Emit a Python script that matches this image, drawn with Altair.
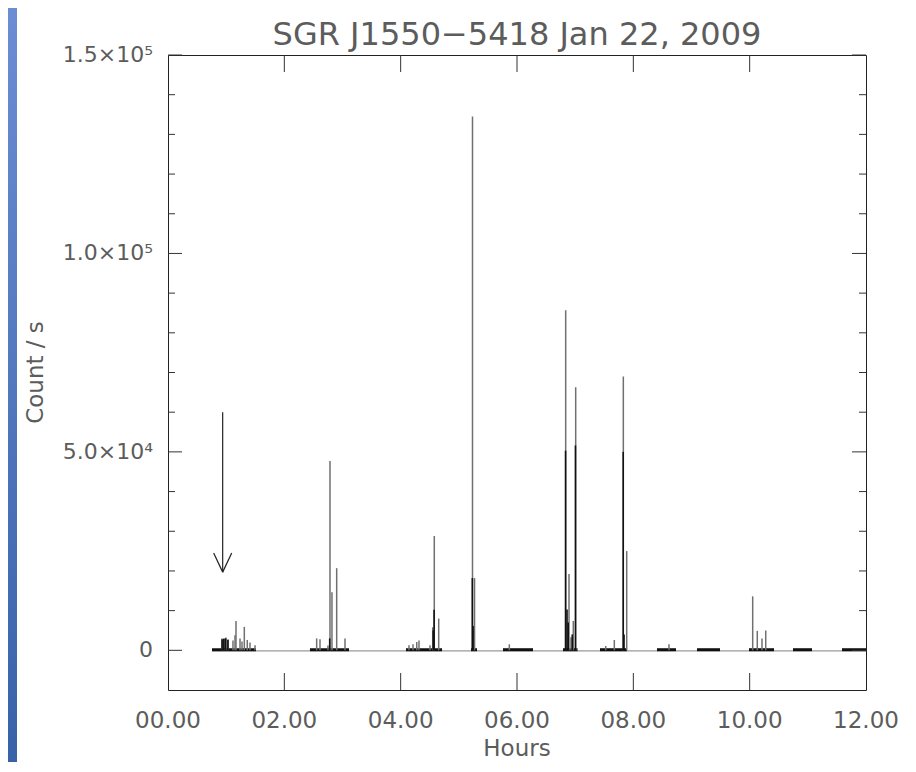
import altair as alt
import pandas as pd

# ---- data ----
# observation intervals (hours)
seg_start = [0.756, 2.441, 4.092, 5.209, 5.759, 6.791, 7.427, 8.407, 9.095, 9.989, 10.745, 11.587]
seg_end = [1.513, 3.112, 4.711, 5.312, 6.275, 7.040, 7.891, 8.734, 9.490, 10.418, 11.072, 12.0]

# burst peaks (hours, counts/s)
spike_t = [0.928, 0.963, 0.997, 1.032, 1.117, 1.152, 1.169, 1.238, 1.272, 1.312, 1.363, 1.410, 1.496,
           2.556, 2.613, 2.750, 2.785, 2.819, 2.900, 3.043,
           4.143, 4.212, 4.276, 4.315, 4.504, 4.551, 4.578, 4.654,
           5.235, 5.270,
           5.868,
           6.837, 6.894, 6.928, 6.968, 7.009,
           7.525, 7.673, 7.828, 7.886,
           8.613,
           10.052, 10.131, 10.212, 10.276]
spike_c = [3000, 3000, 3200, 2800, 2500, 3800, 7400, 3000, 2200, 5900, 2600, 2000, 1300,
           3000, 2800, 1200, 47700, 14600, 20700, 3000,
           1300, 1500, 2100, 2500, 1300, 5800, 28800, 8000,
           134500, 18200,
           1500,
           85700, 19200, 3300, 7400, 66300,
           1100, 2600, 69000, 25000,
           1500,
           13600, 4900, 3000, 5000]

# dense (overlapping) parts of bursts, drawn darker
dense_t = [0.93, 0.96, 0.99, 1.03, 2.78, 4.56, 4.575, 5.232, 5.245, 6.835, 6.86, 6.88, 6.95, 7.005, 7.826, 7.84]
dense_c = [2800, 2900, 3000, 2600, 3000, 5000, 10200, 18200, 6100, 50300, 10300, 7000, 4000, 51600, 50000, 4000]

# arrow marking the first burst (hours, counts/s)
arrow_x = [0.94]
arrow_top = [60000]
arrow_tip = [19700]
arrow_head_dx = 0.155
arrow_head_dy = 4800

x_ticks = [0, 2, 4, 6, 8, 10, 12]
x_tick_labels = ["00.00", "02.00", "04.00", "06.00", "08.00", "10.00", "12.00"]
x_inner_ticks = [2, 4, 6, 8, 10]
y_ticks = [0, 50000, 100000, 150000]
y_tick_labels = ["0", "5.0×10⁴", "1.0×10⁵", "1.5×10⁵"]
y_minor = [10000, 20000, 30000, 40000, 60000, 70000, 80000, 90000,
           110000, 120000, 130000, 140000]

title_text = "SGR J1550−5418 Jan 22, 2009"
x_title = "Hours"
y_title = "Count / s"

# ---- build ----
W, H = 698, 635
FONT = "DejaVu Sans"
TXT = "#5c5c5c"
xs = alt.Scale(domain=[0, 12], nice=False, zero=False)
ys = alt.Scale(domain=[-10000, 150000], nice=False, zero=False)

seg_df = pd.DataFrame({"t0": seg_start, "t1": seg_end, "c": [150] * len(seg_start)})
spk_df = pd.DataFrame({"t": spike_t, "c": spike_c, "z": [0] * len(spike_t)})
dns_df = pd.DataFrame({"t": dense_t, "c": dense_c, "z": [0] * len(dense_t)})
gap_df = pd.DataFrame({"t0": [seg_start[0]], "t1": [seg_end[-1]], "c": [-150]})

arrow_df = pd.DataFrame({"x": arrow_x, "top": arrow_top, "tip": arrow_tip})
head_df = pd.DataFrame({
    "x0": [arrow_x[0] - arrow_head_dx, arrow_x[0] + arrow_head_dx],
    "x1": [arrow_x[0], arrow_x[0]],
    "y0": [arrow_tip[0] + arrow_head_dy] * 2,
    "y1": [arrow_tip[0]] * 2,
})

ymaj_df = pd.DataFrame({"v": y_ticks})
ymin_df = pd.DataFrame({"v": y_minor})
xin_df = pd.DataFrame({"v": x_inner_ticks})
xlab_df = pd.DataFrame({"v": x_ticks, "lab": x_tick_labels})
ylab_df = pd.DataFrame({"v": y_ticks, "lab": y_tick_labels})

# background strip of the slide (left edge)
bg = pd.DataFrame({"k": [0]})
left_strip = alt.Chart(bg).mark_rect(
    color=alt.LinearGradient(gradient="linear", x1=0, x2=0, y1=0, y2=1,
                             stops=[alt.GradientStop(color="#6b8dd3", offset=0),
                                    alt.GradientStop(color="#3862a8", offset=1)])
).encode(x=alt.value(-160), x2=alt.value(-151), y=alt.value(-47), y2=alt.value(H + 72))

gap_line = alt.Chart(gap_df).mark_rule(color="#9a9a9a", strokeWidth=1.3).encode(
    x=alt.X("t0:Q", scale=xs, axis=None), x2="t1:Q",
    y=alt.Y("c:Q", scale=ys, axis=None))
segs = alt.Chart(seg_df).mark_rule(color="#111111", strokeWidth=3).encode(
    x=alt.X("t0:Q", scale=xs, axis=None), x2="t1:Q", y=alt.Y("c:Q", scale=ys, axis=None))
spikes = alt.Chart(spk_df).mark_rule(color="#707070", strokeWidth=1.5).encode(
    x=alt.X("t:Q", scale=xs, axis=None), y=alt.Y("z:Q", scale=ys, axis=None), y2="c:Q")
dense = alt.Chart(dns_df).mark_rule(color="#111111", strokeWidth=1.6).encode(
    x=alt.X("t:Q", scale=xs, axis=None), y=alt.Y("z:Q", scale=ys, axis=None), y2="c:Q")

shaft = alt.Chart(arrow_df).mark_rule(color="#222222", strokeWidth=1.2).encode(
    x=alt.X("x:Q", scale=xs, axis=None), y=alt.Y("top:Q", scale=ys, axis=None), y2="tip:Q")
head = alt.Chart(head_df).mark_rule(color="#222222", strokeWidth=1.2).encode(
    x=alt.X("x0:Q", scale=xs, axis=None), x2="x1:Q",
    y=alt.Y("y0:Q", scale=ys, axis=None), y2="y1:Q")

TC = "#333333"
yl_maj = alt.Chart(ymaj_df).mark_rule(color=TC).encode(
    y=alt.Y("v:Q", scale=ys, axis=None), x=alt.value(0), x2=alt.value(14))
yr_maj = alt.Chart(ymaj_df).mark_rule(color=TC).encode(
    y=alt.Y("v:Q", scale=ys, axis=None), x=alt.value(W - 14), x2=alt.value(W))
yl_min = alt.Chart(ymin_df).mark_rule(color=TC).encode(
    y=alt.Y("v:Q", scale=ys, axis=None), x=alt.value(0), x2=alt.value(7))
yr_min = alt.Chart(ymin_df).mark_rule(color=TC).encode(
    y=alt.Y("v:Q", scale=ys, axis=None), x=alt.value(W - 7), x2=alt.value(W))
xb = alt.Chart(xin_df).mark_rule(color=TC).encode(
    x=alt.X("v:Q", scale=xs, axis=None), y=alt.value(H - 17), y2=alt.value(H))
xt = alt.Chart(xin_df).mark_rule(color=TC).encode(
    x=alt.X("v:Q", scale=xs, axis=None), y=alt.value(0), y2=alt.value(17))

# tick labels and titles
xlabels = alt.Chart(xlab_df).mark_text(font=FONT, fontSize=23, color=TXT, align="center",
                                       baseline="alphabetic").encode(
    x=alt.X("v:Q", scale=xs, axis=None), y=alt.value(H + 38), text="lab:N")
ylabels = alt.Chart(ylab_df).mark_text(font=FONT, fontSize=22, color=TXT, align="right",
                                       baseline="middle").encode(
    y=alt.Y("v:Q", scale=ys, axis=None), x=alt.value(-15), text="lab:N")
title_df = pd.DataFrame({"t": [title_text]})
xt_df = pd.DataFrame({"t": [x_title]})
yt_df = pd.DataFrame({"t": [y_title]})
title_mark = alt.Chart(title_df).mark_text(font=FONT, fontSize=32, color=TXT, align="center",
                                           baseline="alphabetic").encode(
    x=alt.value(W / 2), y=alt.value(-10), text="t:N")
xtitle_mark = alt.Chart(xt_df).mark_text(font=FONT, fontSize=23, color=TXT, align="center",
                                         baseline="alphabetic").encode(
    x=alt.value(W / 2), y=alt.value(H + 66), text="t:N")
ytitle_mark = alt.Chart(yt_df).mark_text(font=FONT, fontSize=23, color=TXT, align="center",
                                         baseline="middle", angle=270).encode(
    x=alt.value(-132), y=alt.value(H / 2), text="t:N")

chart = alt.layer(
    left_strip, gap_line, segs, spikes, dense, shaft, head,
    yl_maj, yr_maj, yl_min, yr_min, xb, xt,
    xlabels, ylabels, title_mark, xtitle_mark, ytitle_mark
).properties(
    width=W, height=H,
    autosize=alt.AutoSizeParams(type="none"),
    padding={"left": 160, "top": 47, "right": 42, "bottom": 72},
).configure(
    background="white",
    view=alt.ViewConfig(stroke="#222222", strokeWidth=1),
)

chart.save("out.html", embed_options={"renderer": "svg", "actions": False})
